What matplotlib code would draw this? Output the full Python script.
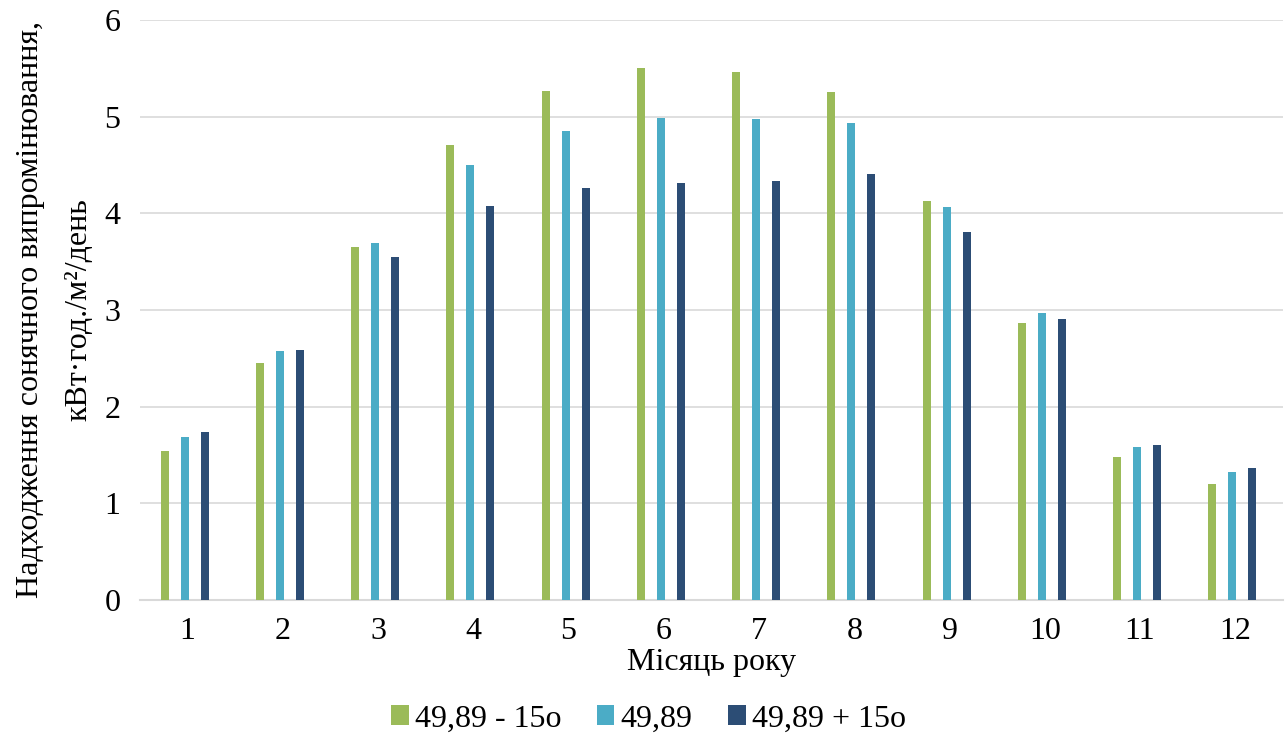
import matplotlib

matplotlib.use("Agg")
import matplotlib.pyplot as plt
import numpy as np

months = [str(m) for m in range(1, 13)]
series_names = ["49,89 - 15o", "49,89", "49,89 + 15o"]
minus15 = [1.54, 2.45, 3.65, 4.71, 5.26, 5.50, 5.46, 5.25, 4.13, 2.87, 1.48, 1.20]
base = [1.69, 2.58, 3.69, 4.50, 4.85, 4.99, 4.98, 4.93, 4.07, 2.97, 1.58, 1.32]
plus15 = [1.74, 2.59, 3.55, 4.08, 4.26, 4.31, 4.33, 4.41, 3.81, 2.91, 1.60, 1.37]
colors = ["#9bbb59", "#4bacc6", "#2c4d75"]

plt.rcParams["font.family"] = ["Liberation Serif", "DejaVu Serif"]
FS = 23

fig = plt.figure(figsize=(12.88, 7.34), dpi=100)
ax = fig.add_axes([0.1087, 0.1826, 0.8873, 0.7902])

x = np.arange(len(months))
width = 0.084
offset = 0.21
for i, (vals, name, col) in enumerate(zip([minus15, base, plus15], series_names, colors)):
    ax.bar(x + (i - 1) * offset - 0.03, vals, width=width, color=col, label=name, zorder=3)

ax.set_xlim(-0.5, len(months) - 0.5)
ax.set_ylim(0, 6)
ax.set_yticks(range(0, 7))
ax.set_xticks(x)
ax.set_xticklabels(months)
ax.tick_params(axis="both", length=0, labelsize=FS, colors="black")
ax.tick_params(axis="y", pad=14)
ax.tick_params(axis="x", pad=12)
ax.grid(axis="y", color="#d9d9d9", linewidth=1.2, zorder=0)
for s in ["top", "right", "left"]:
    ax.spines[s].set_visible(False)
ax.spines["bottom"].set_color("#d9d9d9")
ax.spines["bottom"].set_linewidth(1.5)

ax.set_xlabel("Місяць року", fontsize=FS, labelpad=2)
ylab = ax.set_ylabel("Надходження сонячного випромінювання,\nкВт·год./м²/день", fontsize=FS,
                     labelpad=8)
ylab.set_linespacing(1.9)

ax.legend(loc="upper center", bbox_to_anchor=(0.445, -0.18), ncol=3, frameon=False,
          fontsize=FS, handlelength=0.55, handleheight=0.55, handletextpad=0.2,
          columnspacing=1.1, borderaxespad=0, borderpad=0)

fig.savefig("out.png", dpi=100)
